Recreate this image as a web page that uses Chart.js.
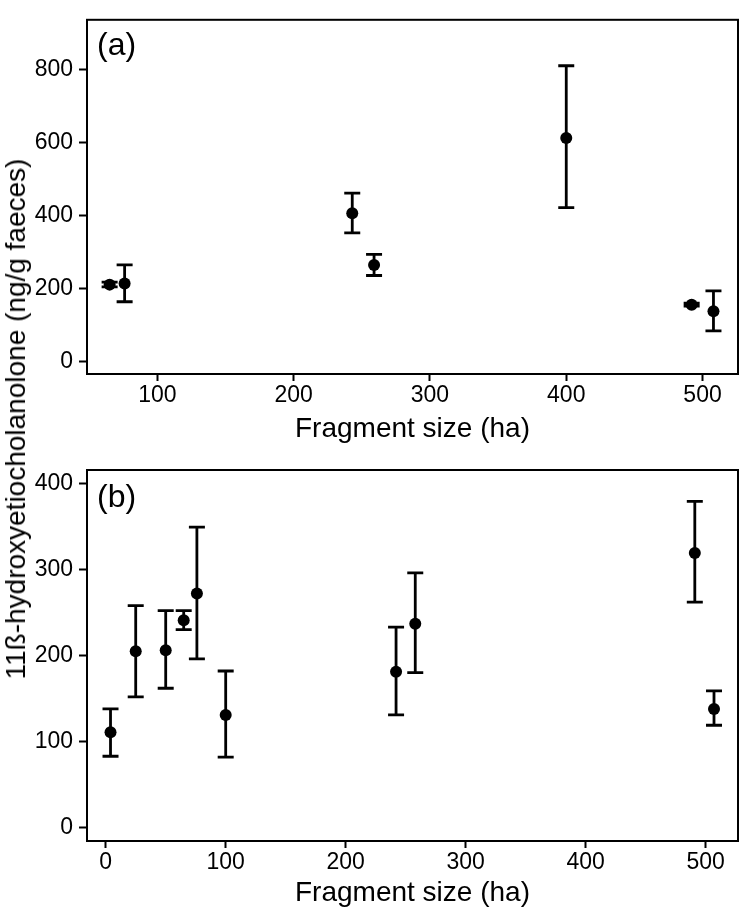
<!DOCTYPE html>
<html>
<head>
<meta charset="utf-8">
<script src="https://cdn.jsdelivr.net/npm/chart.js@4"></script>
<style>
  html, body { margin: 0; padding: 0; background: #fff; }
  #wrap { position: relative; width: 744px; height: 914px; overflow: hidden; }
  #c1 { position: absolute; left: 0; top: 0; }
  #c2 { position: absolute; left: 0; top: 450px; }
  #ylab { position: absolute; left: 16px; top: 419px; transform: translate(-50%, -50%) rotate(-90deg);
          white-space: nowrap; font-family: "Liberation Sans", Arial, sans-serif; font-size: 28px; color: #000; line-height: 1; }
</style>
</head>
<body>
<div id="wrap">
  <canvas id="c1" width="744" height="450"></canvas>
  <canvas id="c2" width="744" height="464"></canvas>
  <div id="ylab">11ß-hydroxyetiocholanolone (ng/g faeces)</div>
</div>
<script>
// Panel (a)
const xA    = [65, 76, 243, 259, 400, 492, 508];
const meanA = [210, 213, 406, 264, 612, 155, 137];
const loA   = [204, 163, 352, 235, 421, 151, 83];
const hiA   = [217, 264, 461, 293, 810, 159, 193];
const xTicksA = [100, 200, 300, 400, 500];
const yTicksA = [0, 200, 400, 600, 800];

// Panel (b)
const xB    = [4, 25, 50, 65, 76, 100, 242, 258, 491, 507];
const meanB = [111, 205, 206, 241, 272, 131, 181, 237, 319, 138];
const loB   = [83, 152, 162, 230, 196, 82, 131, 180, 262, 119];
const hiB   = [138, 258, 252, 252, 349, 182, 233, 296, 379, 159];
const xTicksB = [0, 100, 200, 300, 400, 500];
const yTicksB = [0, 100, 200, 300, 400];

const xTitle = 'Fragment size (ha)';
const FONT = '"Liberation Sans", Arial, sans-serif';

const boxPlugin = {
  id: 'boxAndBars',
  beforeDatasetsDraw(chart, args, opts) {
    const ctx = chart.ctx, xs = chart.scales.x, ys = chart.scales.y;
    ctx.save();
    ctx.strokeStyle = '#000';
    ctx.lineWidth = 2.8;
    ctx.lineCap = 'butt';
    const cap = 8;
    opts.x.forEach((xv, i) => {
      const px = xs.getPixelForValue(xv);
      const pl = ys.getPixelForValue(opts.lo[i]);
      const ph = ys.getPixelForValue(opts.hi[i]);
      ctx.beginPath();
      ctx.moveTo(px, pl); ctx.lineTo(px, ph);
      ctx.moveTo(px - cap, pl); ctx.lineTo(px + cap, pl);
      ctx.moveTo(px - cap, ph); ctx.lineTo(px + cap, ph);
      ctx.stroke();
    });
    ctx.restore();
  },
  afterDraw(chart, args, opts) {
    const ctx = chart.ctx, a = chart.chartArea;
    ctx.save();
    ctx.strokeStyle = '#000';
    ctx.lineWidth = 2;
    ctx.strokeRect(a.left, a.top, a.right - a.left, a.bottom - a.top);
    ctx.fillStyle = '#000';
    ctx.font = '32px ' + FONT;
    ctx.textBaseline = 'alphabetic';
    ctx.textAlign = 'left';
    ctx.fillText(opts.label, a.left + 10, a.top + opts.labelDy);
    ctx.restore();
  }
};

function makeChart(id, xs, mean, lo, hi, xTicks, yTicks, xr, yr, padTop, xAxisH, label, labelDy) {
  return new Chart(document.getElementById(id), {
    type: 'scatter',
    data: {
      datasets: [{
        data: xs.map((x, i) => ({ x: x, y: mean[i] })),
        pointRadius: 6,
        pointHoverRadius: 6,
        pointBackgroundColor: '#000',
        pointBorderColor: '#000',
        pointBorderWidth: 0
      }]
    },
    options: {
      responsive: false,
      animation: false,
      devicePixelRatio: 1,
      layout: { padding: { top: padTop, right: 6, left: 0, bottom: 0 } },
      plugins: {
        legend: { display: false },
        tooltip: { enabled: false },
        boxAndBars: { x: xs, lo: lo, hi: hi, label: label, labelDy: labelDy }
      },
      scales: {
        x: {
          type: 'linear',
          min: xr[0], max: xr[1],
          afterBuildTicks: s => { s.ticks = xTicks.map(v => ({ value: v })); },
          afterFit: s => { s.height = xAxisH; },
          border: { display: false },
          grid: { drawOnChartArea: false, drawTicks: true, tickLength: 7, tickWidth: 2, tickColor: '#000', color: '#000' },
          ticks: { color: '#000', font: { family: FONT, size: 23 }, padding: 1, maxRotation: 0, autoSkip: false },
          title: { display: true, text: xTitle, color: '#000', font: { family: FONT, size: 28 }, padding: { top: 0, bottom: 4 } }
        },
        y: {
          type: 'linear',
          min: yr[0], max: yr[1],
          afterBuildTicks: s => { s.ticks = yTicks.map(v => ({ value: v })); },
          afterFit: s => { s.width = 87; },
          border: { display: false },
          grid: { drawOnChartArea: false, drawTicks: true, tickLength: 8, tickWidth: 2, tickColor: '#000', color: '#000' },
          ticks: { color: '#000', font: { family: FONT, size: 23 }, padding: 6, autoSkip: false }
        }
      }
    },
    plugins: [boxPlugin]
  });
}

makeChart('c1', xA, meanA, loA, hiA, xTicksA, yTicksA, [48.4, 526], [-35, 936], 3, 76, '(a)', 35);
makeChart('c2', xB, meanB, loB, hiB, xTicksB, yTicksB, [-15.6, 527], [-15.4, 415.4], 20, 73, '(b)', 37);
</script>
</body>
</html>
